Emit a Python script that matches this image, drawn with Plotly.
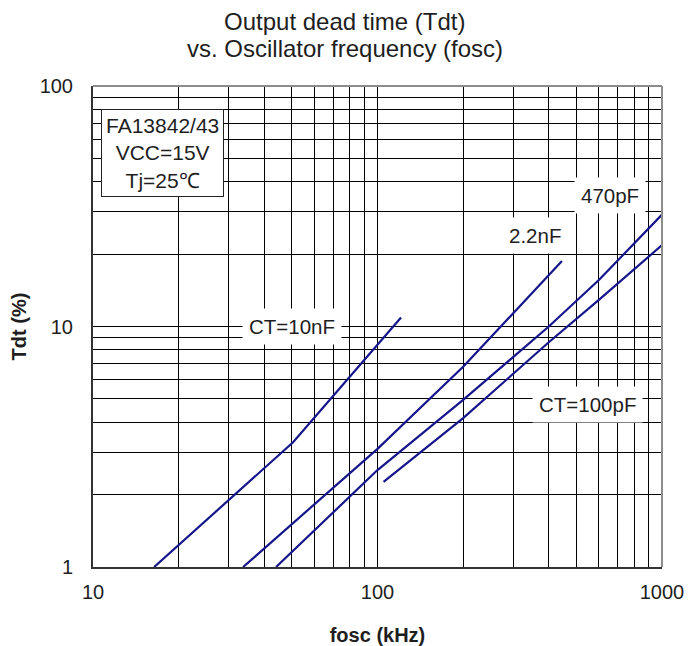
import math
import plotly.graph_objects as go

# Tdt vs fosc for each timing capacitor (fosc in kHz, Tdt in %)
f_10nF = [16.4, 50.5, 121]
t_10nF = [1.0, 3.3, 10.9]

f_2n2F = [33.7, 100, 200, 445]
t_2n2F = [1.0, 3.1, 6.8, 18.7]

f_470pF = [44, 100, 200, 400, 600, 1000]
t_470pF = [1.0, 2.53, 4.95, 10.0, 15.6, 29.2]

f_100pF = [105, 200, 400, 600, 1000]
t_100pF = [2.26, 4.16, 8.6, 12.9, 21.8]

# log grid positions and the labels shown on the decades
x_grid = [m * d for d in (10, 100) for m in range(1, 10)] + [1000]
x_text = [str(v) if v in (10, 100, 1000) else "" for v in x_grid]
y_grid = [m * d for d in (1, 10) for m in range(1, 10)] + [100]
y_text = [str(v) if v in (1, 10, 100) else "" for v in y_grid]

LINE = "#16168c"
FONT = "Liberation Sans, Arial, sans-serif"
TXT = "#1e1e1e"

fig = go.Figure()
for fx, ty in [(f_10nF, t_10nF), (f_2n2F, t_2n2F), (f_470pF, t_470pF), (f_100pF, t_100pF)]:
    fig.add_trace(go.Scatter(x=fx, y=ty, mode="lines",
                             line=dict(color=LINE, width=2.2),
                             showlegend=False, hoverinfo="skip"))

axis_common = dict(
    type="log", showgrid=True, gridcolor="#000000", gridwidth=1,
    ticks="", showline=True, linecolor="#333333", linewidth=2,
    tickfont=dict(family=FONT, size=20, color=TXT), zeroline=False,
    automargin=False,
)

fig.update_xaxes(range=[1, 3], tickmode="array", tickvals=x_grid, ticktext=x_text,
                 ticklabelstandoff=6,
                 title=dict(text="<b>fosc (kHz)</b>", standoff=26,
                            font=dict(family=FONT, size=20, color=TXT)),
                 **axis_common)
fig.update_yaxes(range=[0, 2], tickmode="array", tickvals=y_grid, ticktext=y_text,
                 ticklabelstandoff=14,
                 title=dict(text="<b>Tdt (%)</b>", standoff=8,
                            font=dict(family=FONT, size=20, color=TXT)),
                 **axis_common)

# grey frame on top and right edges
fig.add_shape(type="line", xref="paper", yref="paper", x0=0, x1=1, y0=1, y1=1,
              line=dict(color="#8c8c8c", width=2), layer="above")
fig.add_shape(type="line", xref="paper", yref="paper", x0=1, x1=1, y0=0, y1=1,
              line=dict(color="#8c8c8c", width=2), layer="above")

label_font = dict(family=FONT, size=20.5, color=TXT)
labels = [
    ("CT=10nF", 50, 10),
    ("2.2nF", 358, 24),
    ("470pF", 654, 35),
    ("CT=100pF", 547, 4.76),
]
for text, fx, ty in labels:
    fig.add_annotation(x=math.log10(fx), y=math.log10(ty), text=text, showarrow=False,
                       font=label_font, bgcolor="white", borderpad=6,
                       xanchor="center", yanchor="middle")

fig.add_annotation(x=math.log10(17.5), y=1.7214,
                   text="FA13842/43<br>VCC=15V<br>Tj=25℃", showarrow=False,
                   font=dict(family=FONT, size=21, color=TXT),
                   bgcolor="white", bordercolor="#222222",
                   borderwidth=1, borderpad=4, align="center",
                   xanchor="center", yanchor="middle")

# two-line chart heading, centred on the page
plot_left, plot_w = 93, 569
plot_top, plot_h = 86, 481
for line_text, y_px in [("Output dead time (Tdt)", 21),
                        ("vs. Oscillator frequency (fosc)", 48)]:
    fig.add_annotation(xref="paper", yref="paper",
                       x=(689 / 2 - plot_left) / plot_w,
                       y=(plot_top + plot_h - y_px) / plot_h,
                       text=line_text, showarrow=False,
                       font=dict(family=FONT, size=24, color=TXT),
                       xanchor="center", yanchor="middle")

fig.update_layout(
    width=689, height=646,
    margin=dict(l=93, r=27, t=86, b=79),
    paper_bgcolor="white", plot_bgcolor="white",
)

fig.write_html("out.html")
